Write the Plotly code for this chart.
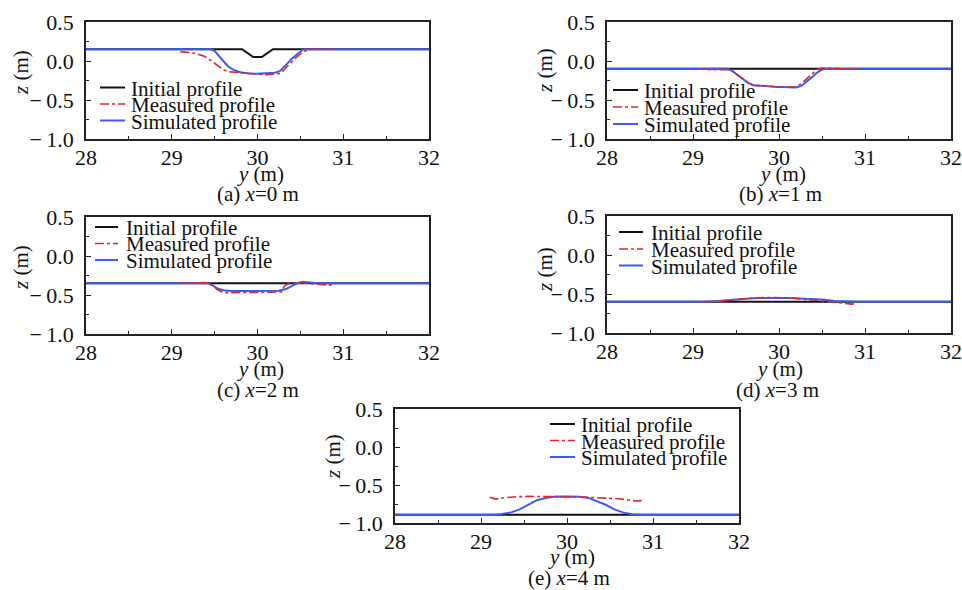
import plotly.graph_objects as go

# ---- cross-section data: y (m) positions and bed elevation z (m) ----
# (a) x = 0 m
init_y_a = [28.0, 29.82, 29.95, 30.05, 30.18, 32.0]
init_z_a = [0.15, 0.15, 0.05, 0.05, 0.15, 0.15]
meas_y_a = [29.1, 29.2, 29.3, 29.38, 29.45, 29.52, 29.6, 29.68, 29.78, 29.9, 30.0,
            30.1, 30.2, 30.27, 30.32, 30.38, 30.44, 30.5, 30.56, 30.62, 30.75, 30.9]
meas_z_a = [0.12, 0.11, 0.09, 0.06, 0.01, -0.05, -0.11, -0.14, -0.15, -0.16, -0.17,
            -0.175, -0.17, -0.16, -0.1, -0.03, 0.035, 0.09, 0.13, 0.15, 0.15, 0.15]
sim_y_a = [28.0, 29.45, 29.5, 29.55, 29.6, 29.66, 29.72, 29.8, 29.9, 30.0, 30.1, 30.2,
           30.26, 30.3, 30.35, 30.4, 30.46, 30.52, 30.56, 32.0]
sim_z_a = [0.15, 0.15, 0.13, 0.06, 0.0, -0.07, -0.115, -0.145, -0.16, -0.165, -0.16, -0.15,
           -0.13, -0.09, -0.03, 0.03, 0.09, 0.14, 0.15, 0.15]

# (b) x = 1 m
init_y_b = [28.0, 32.0]
init_z_b = [-0.1, -0.1]
meas_y_b = [29.1, 29.2, 29.3, 29.4, 29.46, 29.52, 29.58, 29.64, 29.7, 29.8, 29.95, 30.1,
            30.2, 30.26, 30.32, 30.38, 30.44, 30.5, 30.6, 30.75, 30.9]
meas_z_b = [-0.1, -0.11, -0.11, -0.11, -0.13, -0.18, -0.24, -0.28, -0.31, -0.32, -0.33, -0.335,
            -0.33, -0.29, -0.23, -0.16, -0.11, -0.09, -0.09, -0.1, -0.1]
sim_y_b = [28.0, 29.4, 29.46, 29.52, 29.58, 29.64, 29.7, 29.8, 29.95, 30.1, 30.2, 30.26,
           30.32, 30.38, 30.44, 30.5, 30.55, 32.0]
sim_z_b = [-0.1, -0.1, -0.13, -0.18, -0.24, -0.28, -0.31, -0.32, -0.33, -0.335, -0.34, -0.32,
           -0.27, -0.21, -0.15, -0.11, -0.1, -0.1]

# (c) x = 2 m
init_y_c = [28.0, 32.0]
init_z_c = [-0.35, -0.35]
meas_y_c = [29.1, 29.2, 29.3, 29.4, 29.47, 29.53, 29.6, 29.7, 29.85, 30.0, 30.15, 30.28,
            30.31, 30.35, 30.42, 30.5, 30.6, 30.7, 30.8, 30.9]
meas_z_c = [-0.35, -0.345, -0.345, -0.34, -0.37, -0.43, -0.47, -0.47, -0.465, -0.47, -0.465, -0.46,
            -0.39, -0.36, -0.35, -0.34, -0.355, -0.365, -0.37, -0.37]
sim_y_c = [28.0, 29.42, 29.48, 29.54, 29.6, 29.7, 29.9, 30.1, 30.25, 30.34, 30.4, 30.46,
           30.53, 30.6, 30.7, 32.0]
sim_z_c = [-0.35, -0.35, -0.38, -0.42, -0.44, -0.45, -0.45, -0.45, -0.445, -0.42, -0.38, -0.35,
           -0.33, -0.34, -0.35, -0.35]

# (d) x = 3 m
init_y_d = [28.0, 32.0]
init_z_d = [-0.6, -0.6]
meas_y_d = [29.1, 29.25, 29.4, 29.55, 29.7, 29.85, 30.0, 30.15, 30.3, 30.45, 30.6, 30.75, 30.85, 30.9]
meas_z_d = [-0.6, -0.595, -0.58, -0.565, -0.55, -0.545, -0.545, -0.55, -0.57, -0.58, -0.6, -0.62,
            -0.63, -0.62]
sim_y_d = [28.0, 29.15, 29.3, 29.5, 29.7, 29.9, 30.1, 30.3, 30.5, 30.65, 30.8, 30.9, 32.0]
sim_z_d = [-0.6, -0.6, -0.59, -0.57, -0.555, -0.55, -0.55, -0.56, -0.57, -0.59, -0.6, -0.6, -0.6]

# (e) x = 4 m
init_y_e = [28.0, 32.0]
init_z_e = [-0.89, -0.89]
meas_y_e = [29.1, 29.17, 29.25, 29.4, 29.55, 29.7, 29.85, 30.0, 30.15, 30.3, 30.45, 30.6,
            30.7, 30.8, 30.87]
meas_z_e = [-0.66, -0.685, -0.67, -0.655, -0.65, -0.65, -0.655, -0.65, -0.655, -0.665, -0.67,
            -0.68, -0.695, -0.71, -0.705]
sim_y_e = [28.0, 29.15, 29.25, 29.35, 29.45, 29.55, 29.65, 29.75, 29.85, 30.0, 30.15, 30.25,
           30.35, 30.45, 30.55, 30.65, 30.75, 30.85, 32.0]
sim_z_e = [-0.89, -0.89, -0.88, -0.86, -0.82, -0.76, -0.7, -0.67, -0.655, -0.65, -0.655, -0.67,
           -0.71, -0.76, -0.82, -0.86, -0.885, -0.89, -0.89]

# axis ticks
x_ticks = [28, 29, 30, 31, 32]
z_ticks = [-1.0, -0.5, 0.0, 0.5]
z_tick_text = ["\u2212\u2009" + "1.0", "\u2212\u2009" + "0.5", "0.0", "0.5"]

series_names = ["Initial profile", "Measured profile", "Simulated profile"]
captions = ["(a) <i>x</i>=0 m", "(b) <i>x</i>=1 m", "(c) <i>x</i>=2 m",
            "(d) <i>x</i>=3 m", "(e) <i>x</i>=4 m"]

W, H = 962, 590
FONT = "Liberation Serif, Times New Roman, serif"
FS = 21
C_INIT, C_MEAS, C_SIM = "#111111", "#e02630", "#3a5cef"

# panel boxes in pixels: left, right, top, bottom
boxes = [(86, 429, 22, 139), (607, 951, 22, 139), (86, 429, 217, 334),
         (607, 951, 216, 333), (395, 739, 409, 523)]
# legend: sample-line x0, x1, text x, row centres
legends = [(100, 125, 129, [87.5, 104, 120.5]),
           (613, 638, 642, [90, 107, 124]),
           (95, 118, 124, [227, 243.5, 260]),
           (619, 643, 649, [232, 249, 265.5]),
           (550, 575, 579, [424, 440.5, 457])]
# z-label centre (x, y), y-label centre y, caption centre y, caption/label centre x
zlab = [(21, 73), (545, 71), (21, 268), (545, 270), (333, 457)]
ylab_y = [174, 174, 369, 369, 557]
cap_y = [194, 194, 390, 390, 578]
cap_x = [258, 780, 258, 777, 569]

data = [
    (init_y_a, init_z_a, meas_y_a, meas_z_a, sim_y_a, sim_z_a),
    (init_y_b, init_z_b, meas_y_b, meas_z_b, sim_y_b, sim_z_b),
    (init_y_c, init_z_c, meas_y_c, meas_z_c, sim_y_c, sim_z_c),
    (init_y_d, init_z_d, meas_y_d, meas_z_d, sim_y_d, sim_z_d),
    (init_y_e, init_z_e, meas_y_e, meas_z_e, sim_y_e, sim_z_e),
]


def px(x):
    return x / W


def py(y):
    return 1 - y / H


fig = go.Figure()
layout = dict(width=W, height=H, autosize=False,
              margin=dict(l=0, r=0, t=0, b=0, pad=0, autoexpand=False),
              paper_bgcolor="white", plot_bgcolor="white", showlegend=False,
              font=dict(family=FONT, size=FS, color="#111"))
shapes, annotations = [], []

for i, (iy, iz, my, mz, sy, sz) in enumerate(data):
    n = "" if i == 0 else str(i + 1)
    xa, ya = "x" + n, "y" + n
    fig.add_trace(go.Scatter(x=iy, y=iz, mode="lines", xaxis=xa, yaxis=ya,
                             line=dict(color=C_INIT, width=2), name=series_names[0]))
    fig.add_trace(go.Scatter(x=sy, y=sz, mode="lines", xaxis=xa, yaxis=ya,
                             line=dict(color=C_SIM, width=2), name=series_names[2]))
    fig.add_trace(go.Scatter(x=my, y=mz, mode="lines", xaxis=xa, yaxis=ya,
                             line=dict(color=C_MEAS, width=1.6, dash="dashdot"),
                             name=series_names[1]))

    l, r, t, b = boxes[i]
    common = dict(showgrid=False, zeroline=False, showline=True, mirror=True,
                  linecolor="#222", linewidth=1.5, ticks="inside", ticklen=5,
                  tickcolor="#222", tickwidth=1.2, automargin=False,
                  tickfont=dict(family=FONT, size=FS + 1, color="#111"))
    layout["xaxis" + n] = dict(common, domain=[px(l), px(r)], anchor=ya, range=[28, 32],
                               tickvals=x_ticks, ticklabelstandoff=-2,
                               minor=dict(ticks="inside", ticklen=3, dtick=0.5, tick0=28,
                                          tickcolor="#222"))
    layout["yaxis" + n] = dict(common, domain=[py(b), py(t)], anchor=xa, range=[-1, 0.5],
                               tickvals=z_ticks, ticktext=z_tick_text, ticklabelstandoff=6,
                               minor=dict(ticks="inside", ticklen=3, dtick=0.25, tick0=-1,
                                          tickcolor="#222"))

    # legend drawn inside each panel
    x0, x1, tx, rows = legends[i]
    styles = [dict(color=C_INIT, width=2), dict(color=C_MEAS, width=1.6, dash="dashdot"),
              dict(color=C_SIM, width=2)]
    for name, st, ry in zip(series_names, styles, rows):
        shapes.append(dict(type="line", xref="paper", yref="paper", x0=px(x0), x1=px(x1),
                           y0=py(ry), y1=py(ry), line=st))
        annotations.append(dict(text=name, xref="paper", yref="paper", x=px(tx), y=py(ry + 1),
                                xanchor="left", yanchor="middle", showarrow=False,
                                font=dict(family=FONT, size=FS, color="#111")))

    # axis titles and caption
    zx, zy = zlab[i]
    annotations.append(dict(text="<i>z</i> (m)", xref="paper", yref="paper", x=px(zx), y=py(zy),
                            xanchor="center", yanchor="middle", showarrow=False, textangle=-90,
                            font=dict(family=FONT, size=FS, color="#111")))
    annotations.append(dict(text="<i>y</i> (m)", xref="paper", yref="paper", x=px(cap_x[i] + 2),
                            y=py(ylab_y[i]), xanchor="center", yanchor="middle", showarrow=False,
                            font=dict(family=FONT, size=FS, color="#111")))
    annotations.append(dict(text=captions[i], xref="paper", yref="paper", x=px(cap_x[i]),
                            y=py(cap_y[i]), xanchor="center", yanchor="middle", showarrow=False,
                            font=dict(family=FONT, size=FS, color="#111")))

layout["shapes"] = shapes
layout["annotations"] = annotations
fig.update_layout(**layout)
fig.write_html("out.html")
